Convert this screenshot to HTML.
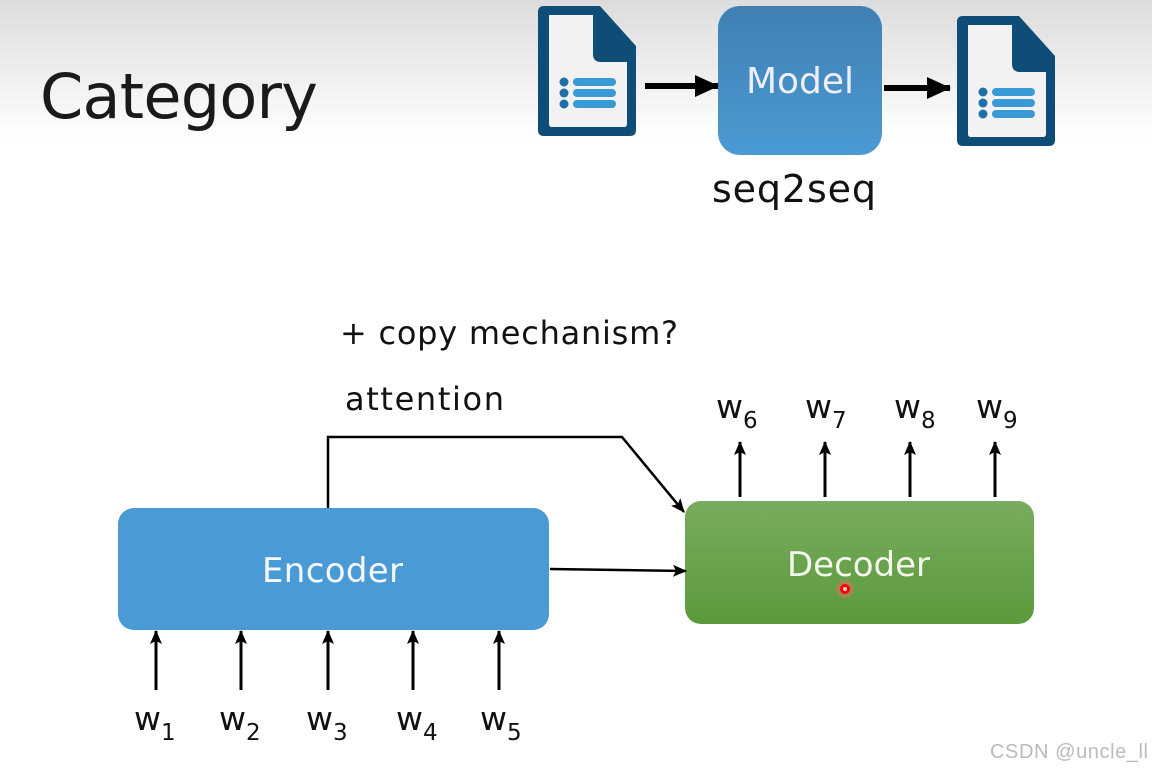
<!DOCTYPE html>
<html><head><meta charset="utf-8"><style>
body{margin:0;width:1152px;height:771px;overflow:hidden;background:#fff;font-family:"DejaVu Sans","Liberation Sans",sans-serif}
</style></head><body>
<svg width="1152" height="771" xmlns="http://www.w3.org/2000/svg">
<defs>
<linearGradient id="bg" x1="0" y1="0" x2="0" y2="1"><stop offset="0" stop-color="#dcdcdc"/><stop offset="1" stop-color="#fff"/></linearGradient>
<linearGradient id="mg" x1="0" y1="0" x2="0" y2="1"><stop offset="0" stop-color="#3f80b4"/><stop offset="1" stop-color="#4b9ad4"/></linearGradient>
<linearGradient id="gg" x1="0" y1="0" x2="0" y2="1"><stop offset="0" stop-color="#78ac5f"/><stop offset="1" stop-color="#5b9a3b"/></linearGradient>
<marker id="a" markerWidth="14" markerHeight="12" refX="13" refY="6" orient="auto" markerUnits="userSpaceOnUse"><path d="M0,0 L14,6 L0,12 L3,6z" fill="#000"/></marker>
<marker id="b" markerWidth="24" markerHeight="22" refX="23" refY="11" orient="auto" markerUnits="userSpaceOnUse"><path d="M0,0 L24,11 L0,22z" fill="#000"/></marker>
<g id="doc">
<path d="M6,0 H62 L98,40 V124 Q98,130 92,130 H6 Q0,130 0,124 V6 Q0,0 6,0Z" fill="#0e4d78"/>
<path d="M11,9 H55 V48 Q55,56 63,56 H89 V118 Q89,121 86,121 H14 Q11,121 11,118Z" fill="#f2f2f2"/>
<circle cx="26" cy="76" r="4.5" fill="#1f6fa8"/><circle cx="26" cy="87" r="4.5" fill="#1f6fa8"/><circle cx="26" cy="98" r="4.5" fill="#1f6fa8"/>
<rect x="35" y="72" width="43" height="8" rx="4" fill="#3a9ad6"/><rect x="35" y="83" width="43" height="8" rx="4" fill="#3a9ad6"/><rect x="35" y="94" width="43" height="8" rx="4" fill="#3a9ad6"/>
</g>
</defs>
<rect width="1152" height="140" fill="url(#bg)"/>
<text x="40" y="118" font-size="62" textLength="278" font-family="DejaVu Sans,sans-serif" fill="#1a1a1a">Category</text>
<use href="#doc" x="538" y="6"/>
<use href="#doc" x="957" y="16"/>
<rect x="718" y="6" width="164" height="149" rx="22" fill="url(#mg)"/>
<text x="800" y="93" font-size="36" fill="#eef" text-anchor="middle">Model</text>
<line x1="645" y1="86" x2="718" y2="86" stroke="#000" stroke-width="6" marker-end="url(#b)"/>
<line x1="884" y1="88" x2="950" y2="88" stroke="#000" stroke-width="6" marker-end="url(#b)"/>
<text x="712" y="202" font-size="38" textLength="164" fill="#111">seq2seq</text>

<text x="340" y="344" font-size="32" textLength="338" fill="#111">+ copy mechanism?</text>
<text x="345" y="410" font-size="32" textLength="159" fill="#111">attention</text>

<rect x="118" y="508" width="431" height="122" rx="16" fill="#4a9ad5"/>
<text x="262" y="582" font-size="34" textLength="141" fill="#f4f8ff">Encoder</text>
<rect x="685" y="501" width="349" height="123" rx="16" fill="url(#gg)"/>
<text x="787" y="576" font-size="34" textLength="143" fill="#f4f8ee">Decoder</text>
<circle cx="845" cy="589" r="9" fill="#f66" opacity="0.4"/><circle cx="845" cy="589" r="5" fill="#f00"/><circle cx="845" cy="589" r="2" fill="#fcc"/>

<polyline points="328,508 328,437 622,437 684,512" fill="none" stroke="#000" stroke-width="2.5" marker-end="url(#a)"/>
<line x1="550" y1="569" x2="686" y2="571" stroke="#000" stroke-width="2.5" marker-end="url(#a)"/>

<g stroke="#000" stroke-width="3" marker-end="url(#a)">
<line x1="156" y1="690" x2="156" y2="631"/><line x1="241" y1="690" x2="241" y2="631"/><line x1="328" y1="690" x2="328" y2="631"/><line x1="413" y1="690" x2="413" y2="631"/><line x1="499" y1="690" x2="499" y2="631"/>
<line x1="740" y1="497" x2="740" y2="442"/><line x1="825" y1="497" x2="825" y2="442"/><line x1="910" y1="497" x2="910" y2="442"/><line x1="995" y1="497" x2="995" y2="442"/>
</g>
<g font-size="33" fill="#111">
<text x="134" y="730">w<tspan font-size="23" dy="10">1</tspan></text>
<text x="219" y="730">w<tspan font-size="23" dy="10">2</tspan></text>
<text x="306" y="730">w<tspan font-size="23" dy="10">3</tspan></text>
<text x="396" y="730">w<tspan font-size="23" dy="10">4</tspan></text>
<text x="480" y="730">w<tspan font-size="23" dy="10">5</tspan></text>
<text x="716" y="418">w<tspan font-size="23" dy="10">6</tspan></text>
<text x="805" y="418">w<tspan font-size="23" dy="10">7</tspan></text>
<text x="894" y="418">w<tspan font-size="23" dy="10">8</tspan></text>
<text x="976" y="418">w<tspan font-size="23" dy="10">9</tspan></text>
</g>
<text x="990" y="758" font-size="20" textLength="158" fill="#bbb" font-family="Liberation Sans,sans-serif">CSDN @uncle_ll</text>
</svg>
</body></html>
